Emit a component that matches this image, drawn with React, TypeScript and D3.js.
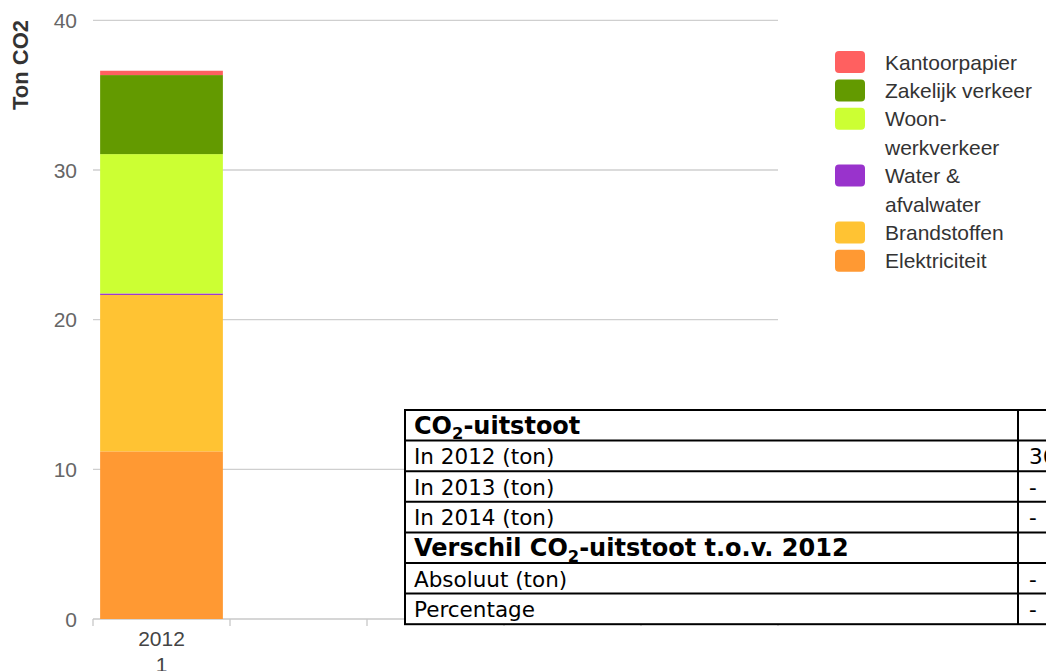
import React from "react";
import * as d3 from "d3";

// ---- data ----
const categories = ["2012", "", "", "", ""];
const categorySubLabels = ["1", "", "", "", ""];
const seriesNames = [
  "Elektriciteit",
  "Brandstoffen",
  "Water & afvalwater",
  "Woon-werkverkeer",
  "Zakelijk verkeer",
  "Kantoorpapier",
];
const seriesColors = ["#ff9933", "#ffc333", "#9933cc", "#ccff33", "#639a00", "#ff6060"];
const elektriciteit = [11.2];
const brandstoffen = [10.45];
const waterAfvalwater = [0.1];
const woonWerkverkeer = [9.31];
const zakelijkVerkeer = [5.28];
const kantoorpapier = [0.29];
const yTicks = [0, 10, 20, 30, 40];
const yTitle = "Ton CO2";
const legendOrder = [5, 4, 3, 2, 1, 0];

const tableRows: { label: string; value: string; bold: boolean }[] = [
  { label: "CO2-uitstoot", value: "", bold: true },
  { label: "In 2012 (ton)", value: "36,6", bold: false },
  { label: "In 2013 (ton)", value: "-", bold: false },
  { label: "In 2014 (ton)", value: "-", bold: false },
  { label: "Verschil CO2-uitstoot t.o.v. 2012", value: "", bold: true },
  { label: "Absoluut (ton)", value: "-", bold: false },
  { label: "Percentage", value: "-", bold: false },
];

const W = 1046;
const H = 671;
const plot = { left: 93, right: 778, top: 20.3, bottom: 619 };
const FONT = "'Liberation Sans', Arial, Helvetica, sans-serif";
const TFONT = "'DejaVu Sans', Verdana, sans-serif";

function wrapLabel(label: string, maxW: number, font: string): string[] {
  let ctx: CanvasRenderingContext2D | null = null;
  try {
    ctx = document.createElement("canvas").getContext("2d");
  } catch (e) {
    ctx = null;
  }
  const measure = (s: string) => {
    if (ctx) {
      ctx.font = font;
      return ctx.measureText(s).width;
    }
    return s.length * 11;
  };
  if (measure(label) <= maxW) return [label];
  const tokens = label.match(/[^\s-]+-?|\s+/g) || [label];
  const lines: string[] = [];
  let cur = "";
  tokens.forEach((t) => {
    const next = cur + t;
    if (cur.trim() && measure(next.trim()) > maxW) {
      lines.push(cur.trim());
      cur = t.trim() ? t : "";
    } else {
      cur = next;
    }
  });
  if (cur.trim()) lines.push(cur.trim());
  return lines;
}

function CO2Label({ text }: { text: string }) {
  const i = text.indexOf("CO2");
  if (i < 0) return <>{text}</>;
  return (
    <>
      {text.slice(0, i)}CO
      <tspan fontSize="0.68em" dy="0.35em">2</tspan>
      <tspan dy="-0.24em">{text.slice(i + 3)}</tspan>
    </>
  );
}

export default function App() {
  const seriesValues = [
    elektriciteit,
    brandstoffen,
    waterAfvalwater,
    woonWerkverkeer,
    zakelijkVerkeer,
    kantoorpapier,
  ];
  const rows = elektriciteit.map((_, i) => {
    const r: Record<string, number> = { idx: i };
    seriesNames.forEach((n, k) => (r[n] = seriesValues[k][i]));
    return r;
  });
  const stacked = d3.stack<Record<string, number>>().keys(seriesNames)(rows);

  const x = d3
    .scaleBand<number>()
    .domain(d3.range(categories.length))
    .range([plot.left, plot.right])
    .padding(0);
  const y = d3.scaleLinear().domain([0, 40]).range([plot.bottom, plot.top]);
  const bw = x.bandwidth();
  const inset = bw * 0.052;
  const boundaries = d3.range(categories.length + 1).map((i) => plot.left + i * bw);

  const legendFont = `21px ${FONT}`;
  const legendStart = 62;
  const lineH = 28.4;
  let cursor = legendStart;
  const legendItems = legendOrder.map((k) => {
    const lines = wrapLabel(seriesNames[k], 160, legendFont);
    const item = { k, lines, y: cursor };
    cursor += lines.length * lineH;
    return item;
  });

  const tableTop = 410;
  const rowH = 30.6;
  const tLeft = 405;
  const colSplit = 1018;
  const tRight = 1110;

  return (
    <svg
      width={W}
      height={H}
      style={{ position: "absolute", left: 0, top: 0, background: "#fff" }}
    >
      <rect x={0} y={0} width={W} height={H} fill="#fff" />
      {yTicks.map((t) => (
        <line
          key={"g" + t}
          x1={plot.left}
          x2={plot.right}
          y1={y(t)}
          y2={y(t)}
          stroke={t === 0 ? "#c8c8c8" : "#cfcfcf"}
          strokeWidth={1.3}
        />
      ))}
      {boundaries.map((bx, i) => (
        <line key={"xt" + i} x1={bx} x2={bx} y1={y(0)} y2={y(0) + 7} stroke="#c8c8c8" strokeWidth={1.3} />
      ))}
      {yTicks.map((t) => (
        <text
          key={"yl" + t}
          x={77}
          y={y(t)}
          dy="0.36em"
          textAnchor="end"
          fontFamily={FONT}
          fontSize={21}
          fill="#666"
        >
          {t}
        </text>
      ))}
      <text
        transform={`translate(28,65) rotate(-90)`}
        textAnchor="middle"
        fontFamily={FONT}
        fontWeight="bold"
        fontSize={22}
        fill="#333"
      >
        {yTitle}
      </text>
      {categories.map((c, i) => (
        <g key={"xl" + i}>
          <text
            x={(x(i) ?? 0) + bw / 2}
            y={638}
            dy="0.36em"
            textAnchor="middle"
            fontFamily={FONT}
            fontSize={21}
            fill="#444"
          >
            {c}
          </text>
          <text
            x={(x(i) ?? 0) + bw / 2}
            y={664}
            dy="0.36em"
            textAnchor="middle"
            fontFamily={FONT}
            fontSize={21}
            fill="#444"
          >
            {categorySubLabels[i]}
          </text>
        </g>
      ))}
      {stacked.map((s, k) =>
        s.map((d, i) => (
          <rect
            key={"b" + k + "-" + i}
            x={(x(i) ?? 0) + inset}
            width={bw - 2 * inset}
            y={y(d[1])}
            height={Math.max(0, y(d[0]) - y(d[1]))}
            fill={seriesColors[k]}
          />
        ))
      )}
      {legendItems.map((it) => (
        <g key={"lg" + it.k}>
          <rect x={835} y={it.y - 11} width={30} height={22} rx={4} fill={seriesColors[it.k]} />
          {it.lines.map((ln, j) => (
            <text
              key={j}
              x={885}
              y={it.y + j * lineH}
              dy="0.36em"
              fontFamily={FONT}
              fontSize={21}
              fill="#333"
            >
              {ln}
            </text>
          ))}
        </g>
      ))}
      <g>
        <rect
          x={tLeft}
          y={tableTop}
          width={tRight - tLeft}
          height={rowH * tableRows.length}
          fill="#fff"
          stroke="#000"
          strokeWidth={2}
        />
        {tableRows.map((r, i) =>
          i > 0 ? (
            <line
              key={"tr" + i}
              x1={tLeft}
              x2={tRight}
              y1={tableTop + i * rowH}
              y2={tableTop + i * rowH}
              stroke="#000"
              strokeWidth={2}
            />
          ) : null
        )}
        <line
          x1={colSplit}
          x2={colSplit}
          y1={tableTop}
          y2={tableTop + rowH * tableRows.length}
          stroke="#000"
          strokeWidth={2}
        />
        {tableRows.map((r, i) => (
          <g key={"tt" + i}>
            <text
              x={414}
              y={tableTop + (i + 1) * rowH - 7}
              fontFamily={TFONT}
              fontSize={r.bold ? 24 : 21.5}
              fontWeight={r.bold ? "bold" : "normal"}
              fill="#000"
            >
              <CO2Label text={r.label} />
            </text>
            <text
              x={1029}
              y={tableTop + (i + 1) * rowH - 7}
              fontFamily={TFONT}
              fontSize={21.5}
              fill="#000"
            >
              {r.value}
            </text>
          </g>
        ))}
      </g>
    </svg>
  );
}
